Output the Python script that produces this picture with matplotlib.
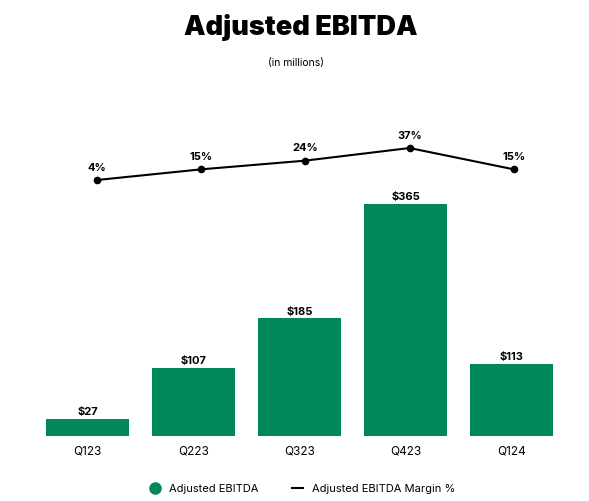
import numpy as np
import matplotlib.pyplot as plt
from matplotlib.lines import Line2D

plt.rcParams['font.family'] = ['Inter', 'DejaVu Sans']

quarters = ['Q123', 'Q223', 'Q323', 'Q423', 'Q124']
ebitda = [27, 107, 185, 365, 113]
margin = [4, 15, 24, 37, 15]

green = '#00875a'
pos = [0.059, 0.1295, 0.90, 0.5916]

fig = plt.figure(figsize=(5.89, 5.02), dpi=100)
ax = fig.add_axes(pos)
x = np.arange(len(quarters))
ax.bar(x, ebitda, width=0.78, color=green)
ax.set_xlim(-0.5, 4.5)
ax.set_ylim(0, 467)
for xi, v in zip(x, ebitda):
    ax.annotate(f'${v}', (xi, v), textcoords='offset points', xytext=(0, 2),
                ha='center', va='bottom', fontsize=8, fontweight='bold')
ax.set_xticks(x)
ax.set_xticklabels(quarters, fontsize=8.5)
ax.tick_params(axis='x', length=0, pad=6)
ax.set_yticks([])
for s in ax.spines.values():
    s.set_visible(False)

# margin line sits on its own axes, points slightly right of bar centres
ax2 = fig.add_axes(pos)
ax2.patch.set_visible(False)
ax2.plot(x, margin, color='black', lw=1.5, marker='o', ms=4.5)
ax2.set_xlim(-0.595, 4.489)
ax2.set_ylim(-260, 46.3)
for xi, v in zip(x, margin):
    ax2.annotate(f'{v}%', (xi, v), textcoords='offset points', xytext=(0, 6),
                 ha='center', va='bottom', fontsize=8, fontweight='bold')
ax2.set_xticks([])
ax2.set_yticks([])
for s in ax2.spines.values():
    s.set_visible(False)

fig.text(0.511, 0.945, 'Adjusted EBITDA', ha='center', va='center',
         fontsize=19.5, fontweight='black')
fig.text(0.503, 0.875, '(in millions)', ha='center', va='center', fontsize=7.5)

handles = [Line2D([], [], color=green, marker='o', ls='none', ms=8),
           Line2D([], [], color='black', lw=1.5)]
fig.legend(handles, ['Adjusted EBITDA', 'Adjusted EBITDA Margin %'],
           loc='center', bbox_to_anchor=(0.513, 0.025), ncol=2, frameon=False,
           fontsize=8, handlelength=1.0, columnspacing=3.0, handletextpad=0.8)

fig.savefig('out.png', dpi=100)
